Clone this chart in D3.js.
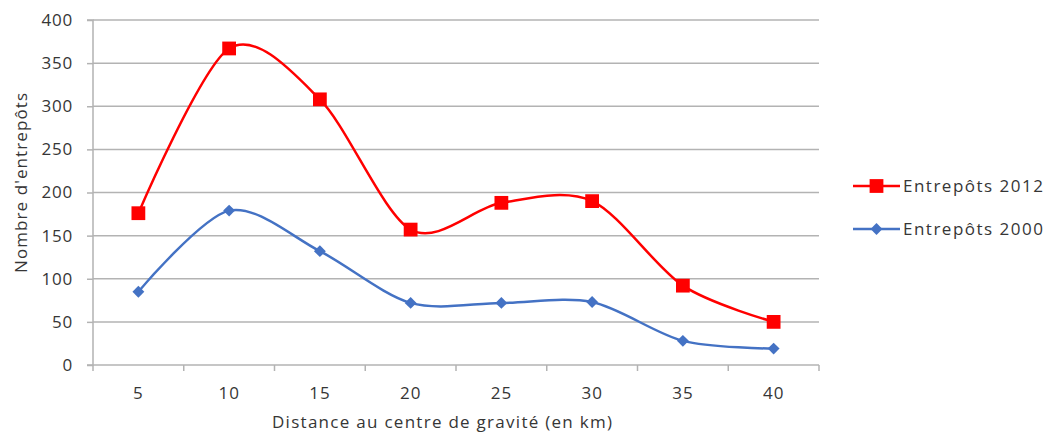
<!DOCTYPE html>
<html>
<head>
<meta charset="utf-8">
<script src="https://cdn.jsdelivr.net/npm/d3@7"></script>
<style>
  body { margin: 0; background: #fff; }
  text { font-family: "Open Sans", sans-serif; fill: #363636; }
</style>
</head>
<body>
<svg id="chart" width="1048" height="435"></svg>
<script>
// categories (distance, km)
const distances = [5, 10, 15, 20, 25, 30, 35, 40];
const entrepots2012 = [176, 367, 308, 157, 188, 190, 92, 50];
const entrepots2000 = [85, 179, 132, 72, 72, 73, 28, 19];
const yTicks = [0, 50, 100, 150, 200, 250, 300, 350, 400];

const margin = { top: 20, right: 229, bottom: 70, left: 93 };
const width = 1048 - margin.left - margin.right;
const height = 435 - margin.top - margin.bottom;

const svg = d3.select("#chart");
const g = svg.append("g")
    .attr("transform", `translate(${margin.left},${margin.top})`);

const x = d3.scaleBand()
    .domain(distances)
    .range([0, width]);

const y = d3.scaleLinear()
    .domain([0, 400])
    .range([height, 0]);

const gridColor = "#b3b3b3";

// horizontal gridlines
g.selectAll(".grid")
    .data(yTicks.filter(d => d > 0))
    .join("line")
    .attr("class", "grid")
    .attr("x1", 0).attr("x2", width)
    .attr("y1", d => y(d)).attr("y2", d => y(d))
    .style("stroke", gridColor)
    .style("stroke-width", 1.5);

// y axis
const yAxis = g.append("g")
    .call(d3.axisLeft(y).tickValues(yTicks).tickSize(6).tickPadding(14));
yAxis.selectAll("line, path").style("stroke", gridColor).style("stroke-width", 1.5);
yAxis.select(".domain").attr("d", `M-6,${height}H0V0H-6`);
yAxis.selectAll("text").style("font-size", "17px").style("fill", "#363636")
    .style("letter-spacing", "0.8px")
    .style("font-family", "'Open Sans', sans-serif");

// x axis with ticks between categories
const xAxis = g.append("g")
    .attr("transform", `translate(0,${height})`)
    .call(d3.axisBottom(x).tickSize(0).tickPadding(22));
xAxis.select(".domain").style("stroke", gridColor).style("stroke-width", 1.5)
    .attr("d", `M0,0H${width}`);
xAxis.selectAll("text").style("font-size", "17px").style("fill", "#363636")
    .style("letter-spacing", "0.8px")
    .style("font-family", "'Open Sans', sans-serif");
g.append("g").selectAll("line")
    .data(d3.range(distances.length + 1))
    .join("line")
    .attr("x1", i => i * x.step()).attr("x2", i => i * x.step())
    .attr("y1", height).attr("y2", height + 6)
    .style("stroke", gridColor)
    .style("stroke-width", 1.5);

// axis titles
g.append("text")
    .attr("x", 179)
    .attr("y", height + 63)
    .attr("textLength", 340)
    .attr("lengthAdjust", "spacing")
    .style("font-size", "17px")
    .text("Distance au centre de gravité (en km)");

g.append("text")
    .attr("transform", `translate(-66,253) rotate(-90)`)
    .attr("textLength", 180)
    .attr("lengthAdjust", "spacing")
    .style("font-size", "17px")
    .text("Nombre d'entrepôts");

const cx = d => x(d) + x.bandwidth() / 2;

const line = d3.line()
    .x(d => cx(d[0]))
    .y(d => y(d[1]))
    .curve(d3.curveCardinal.tension(0.1));

const series = [
    { name: "Entrepôts 2000", values: entrepots2000, color: "#4472c4", shape: d3.symbolDiamond2, size: 90 },
    { name: "Entrepôts 2012", values: entrepots2012, color: "#ff0000", shape: d3.symbolSquare, size: 190 }
];

series.forEach(s => {
    const pts = distances.map((d, i) => [d, s.values[i]]);
    g.append("path")
        .datum(pts)
        .attr("d", line)
        .style("fill", "none")
        .style("stroke", s.color)
        .style("stroke-width", 2.5);
    g.selectAll(null)
        .data(pts)
        .join("path")
        .attr("transform", d => `translate(${cx(d[0])},${y(d[1])})`)
        .attr("d", d3.symbol().type(s.shape).size(s.size))
        .style("fill", s.color);
});

// legend
const legend = svg.append("g").attr("transform", "translate(853,186)");
[series[1], series[0]].forEach((s, i) => {
    const lg = legend.append("g").attr("transform", `translate(0,${i * 43})`);
    lg.append("line")
        .attr("x1", 0).attr("x2", 47)
        .style("stroke", s.color)
        .style("stroke-width", 2.5);
    lg.append("path")
        .attr("transform", "translate(23.5,0)")
        .attr("d", d3.symbol().type(s.shape).size(s.size))
        .style("fill", s.color);
    lg.append("text")
        .attr("x", 50)
        .attr("dy", "0.35em")
        .attr("textLength", 140)
        .attr("lengthAdjust", "spacing")
        .style("font-size", "17px")
        .text(s.name);
});
</script>
</body>
</html>
